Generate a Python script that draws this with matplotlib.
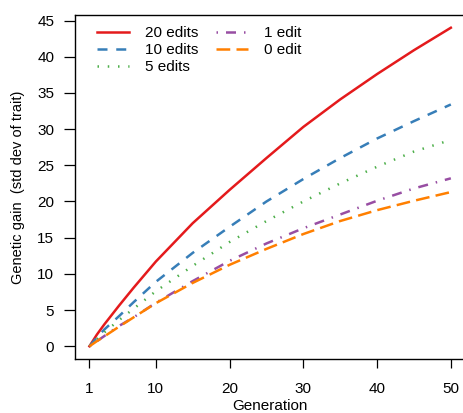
import matplotlib
matplotlib.use('Agg')
import matplotlib.pyplot as plt

generation = [1, 2, 3, 5, 7, 10, 15, 20, 25, 30, 35, 40, 45, 50]
edits_20 = [0, 1.6, 3.0, 5.6, 8.1, 11.7, 17.0, 21.6, 26.0, 30.3, 34.1, 37.6, 40.9, 44.0]
edits_10 = [0, 1.2, 2.3, 4.15, 6.1, 8.9, 12.9, 16.5, 20.0, 23.1, 26.0, 28.7, 31.1, 33.4]
edits_5 = [0, 1.0, 1.9, 3.6, 5.2, 7.6, 11.1, 14.4, 17.3, 20.0, 22.5, 24.8, 26.9, 28.5]
edits_1 = [0, 0.7, 1.4, 2.8, 4.0, 6.0, 9.0, 11.8, 14.2, 16.3, 18.2, 20.1, 21.8, 23.2]
edits_0 = [0, 0.7, 1.35, 2.7, 4.0, 5.95, 8.75, 11.25, 13.45, 15.5, 17.3, 18.8, 20.1, 21.3]

xticks = [1, 10, 20, 30, 40, 50]
yticks = list(range(0, 50, 5))

plt.rcParams['font.family'] = ['Liberation Sans', 'DejaVu Sans']
fs = 11

fig = plt.figure(figsize=(4.63, 4.13), dpi=100)
W, H = 463, 413
ax = fig.add_axes([75 / W, 1 - 359 / H, (465.3 - 75) / W, (359 - 15) / H])

lw = 1.8
ax.plot(generation, edits_20, color='#E41A1C', lw=lw, label='20 edits')
ax.plot(generation, edits_10, color='#377EB8', lw=lw, dashes=(4, 3.5), label='10 edits')
ax.plot(generation, edits_5, color='#4DAF4A', lw=lw, dashes=(0.6, 3.5), label='5 edits')
ax.plot(generation, edits_1, color='#984EA3', lw=lw, dashes=(0.6, 3.2, 4, 3.2), label='1 edit')
ax.plot(generation, edits_0, color='#FF7F00', lw=lw, dashes=(5.5, 2.5), label='0 edit')

ax.set_xlim(-0.96, 51.96)
ax.set_ylim(-1.76, 45.76)
ax.set_xticks(xticks)
ax.set_yticks(yticks)
ax.tick_params(axis='y', length=8, width=0.9, pad=7, labelsize=fs)
ax.tick_params(axis='x', length=6.5, width=0.9, pad=10, labelsize=fs)
for s in ax.spines.values():
    s.set_linewidth(1.0)

ax.set_xlabel('Generation', fontsize=fs, labelpad=2.5)
ax.set_ylabel('Genetic gain  (std dev of trait)', fontsize=10.5, labelpad=9)

leg = ax.legend(loc='upper left', ncol=2, frameon=False, fontsize=fs,
                handlelength=2.1, handletextpad=1.05, columnspacing=1.15,
                labelspacing=0.2, borderaxespad=0.0, borderpad=0.4,
                bbox_to_anchor=(0.041, 0.985))

fig.savefig('out.png', dpi=100)
